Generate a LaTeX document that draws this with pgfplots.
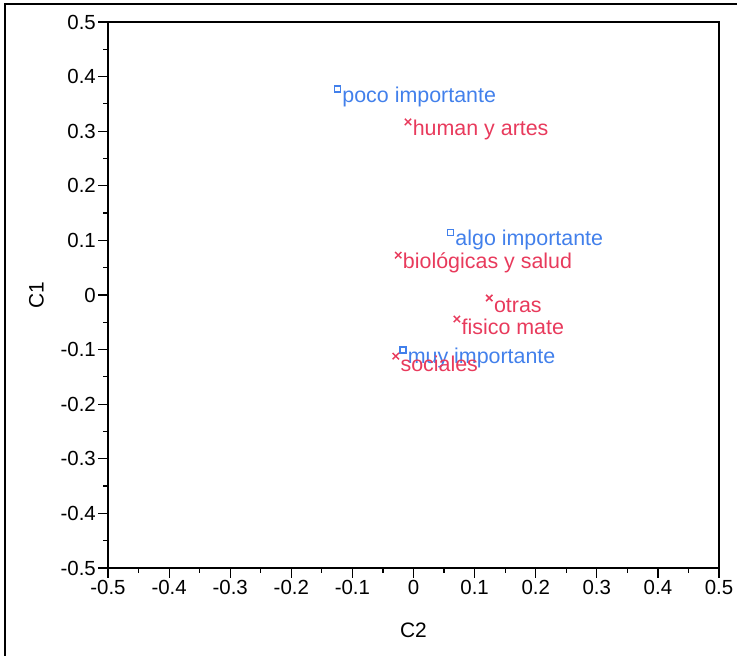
\documentclass[border=0pt]{standalone}
\usepackage{pgfplots}
\pgfplotsset{compat=1.18}
\usepackage{fontspec}
\setmainfont{Liberation Sans}
\definecolor{cblue}{RGB}{66,128,235}
\definecolor{cred}{RGB}{232,58,92}
\begin{document}
\begin{tikzpicture}[x=1bp,y=1bp]
\useasboundingbox (0,0) rectangle (737,656);
\draw[line width=1.5bp] (5,0) -- (5,652) -- (737,652);
\begin{axis}[
  at={(108bp,88bp)}, anchor=south west,
  width=611bp, height=546bp, scale only axis,
  xmin=-0.5, xmax=0.5, ymin=-0.5, ymax=0.5,
  xtick={-0.5,-0.4,-0.3,-0.2,-0.1,0,0.1,0.2,0.3,0.4,0.5},
  ytick={-0.5,-0.4,-0.3,-0.2,-0.1,0,0.1,0.2,0.3,0.4,0.5},
  xticklabels={-0.5,-0.4,-0.3,-0.2,-0.1,0,0.1,0.2,0.3,0.4,0.5},
  yticklabels={-0.5,-0.4,-0.3,-0.2,-0.1,0,0.1,0.2,0.3,0.4,0.5},
  minor tick num=1,
  tick align=outside,
  xtick pos=bottom, ytick pos=left,
  major tick length=10bp, minor tick length=5bp,
  every tick/.style={black, line width=1.2bp},
  axis line style={line width=2bp},
  tick label style={font=\fontsize{20.5}{22}\selectfont, inner sep=2bp},
  xlabel={C2}, ylabel={C1},
  label style={font=\fontsize{21}{23}\selectfont},
  xlabel style={at={(axis description cs:0.5,-0.1136)}, anchor=center},
  ylabel style={at={(axis description cs:-0.117,0.5)}, anchor=center},
  clip=false,
  nodes near coords,
  point meta=explicit symbolic,
  every node near coord/.append style={anchor=west, inner sep=1bp, xshift=3bp, yshift=-8bp, font=\fontsize{21.5}{23}\selectfont},
]
\addplot[only marks, mark=square, mark size=3bp, cblue, line width=1.3bp,
  every node near coord/.append style={text=cblue}] coordinates {
  (-0.124,0.377) [poco importante]
  (0.061,0.115) [algo importante]
  (-0.017,-0.101) [muy importante]
};
\addplot[only marks, mark=x, mark size=4.5bp, cred, line width=1.5bp,
  every node near coord/.append style={text=cred}] coordinates {
  (-0.009,0.317) [human y artes]
  (-0.025,0.073) [biológicas y salud]
  (0.124,-0.0055) [otras]
  (0.071,-0.044) [fisico mate]
  (-0.029,-0.112) [sociales]
};
\end{axis}
\end{tikzpicture}
\end{document}
